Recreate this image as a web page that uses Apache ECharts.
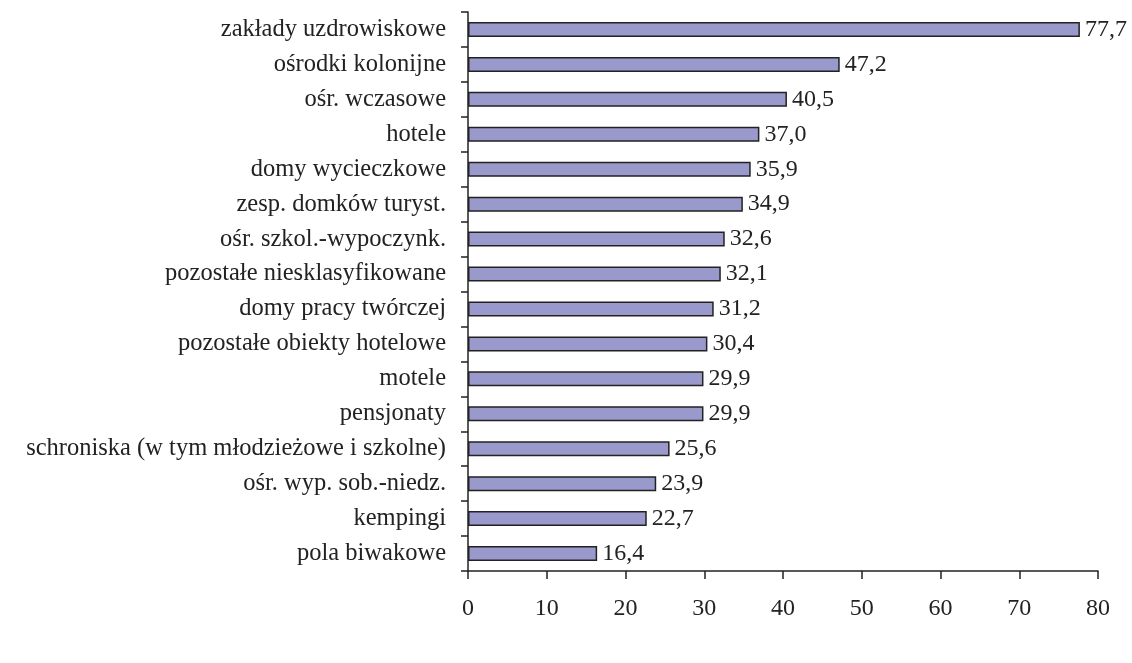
<!DOCTYPE html>
<html><head><meta charset="utf-8">
<script src="https://cdn.jsdelivr.net/npm/echarts@6/dist/echarts.min.js"></script>
<style>html,body{margin:0;padding:0;background:#fff}#c{width:1132px;height:663px}</style>
</head><body><div id="c"></div>
<script>
const categories = [
  "zakłady uzdrowiskowe",
  "ośrodki kolonijne",
  "ośr. wczasowe",
  "hotele",
  "domy wycieczkowe",
  "zesp. domków turyst.",
  "ośr. szkol.-wypoczynk.",
  "pozostałe niesklasyfikowane",
  "domy pracy twórczej",
  "pozostałe obiekty hotelowe",
  "motele",
  "pensjonaty",
  "schroniska (w tym młodzieżowe i szkolne)",
  "ośr. wyp. sob.-niedz.",
  "kempingi",
  "pola biwakowe"
];
const values = [77.7, 47.2, 40.5, 37.0, 35.9, 34.9, 32.6, 32.1, 31.2, 30.4, 29.9, 29.9, 25.6, 23.9, 22.7, 16.4];
const xTicks = [0, 10, 20, 30, 40, 50, 60, 70, 80];

const font = '"Liberation Serif", "Times New Roman", serif';
const chart = echarts.init(document.getElementById('c'), null, {renderer: 'canvas'});
chart.setOption({
  animation: false,
  backgroundColor: '#fff',
  grid: {left: 468, right: 34, top: 12, bottom: 92, containLabel: false},
  xAxis: {
    type: 'value', min: xTicks[0], max: xTicks[xTicks.length - 1], interval: 10,
    splitLine: {show: false},
    axisLine: {show: true, lineStyle: {color: '#222', width: 1.5}},
    axisTick: {show: true, length: 8, lineStyle: {color: '#222', width: 1.5}},
    axisLabel: {margin: 26, fontFamily: font, fontSize: 24, color: '#222'}
  },
  yAxis: {
    type: 'category', inverse: true, data: categories,
    axisLine: {show: true, lineStyle: {color: '#222', width: 1.5}},
    axisTick: {show: true, length: 7, lineStyle: {color: '#222', width: 1.5}},
    axisLabel: {margin: 22, fontFamily: font, fontSize: 24.5, color: '#222'}
  },
  series: [{
    type: 'bar', data: values, barWidth: 15,
    itemStyle: {color: '#9999cc', borderColor: '#222', borderWidth: 1.5},
    label: {
      show: true, position: 'right', distance: 5,
      fontFamily: font, fontSize: 24, color: '#222',
      formatter: p => p.value.toFixed(1).replace('.', ',')
    }
  }]
});
</script></body></html>
